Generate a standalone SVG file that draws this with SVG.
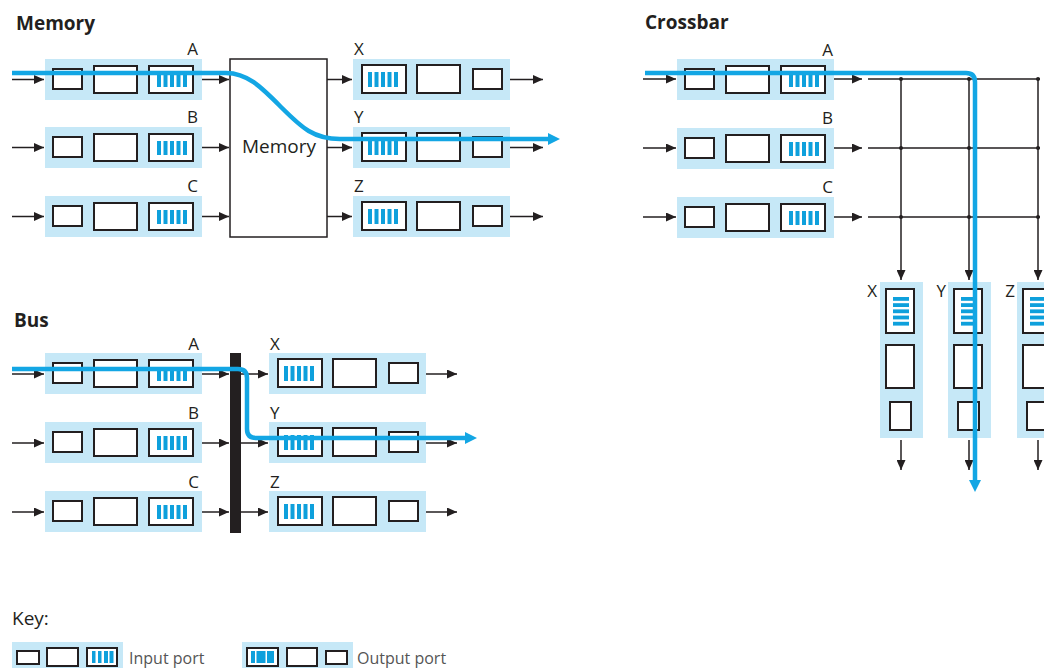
<svg xmlns="http://www.w3.org/2000/svg" xmlns:xlink="http://www.w3.org/1999/xlink" width="1044" height="668" viewBox="0 0 1044 668">
<style>
.bg{fill:#c6e8f7}
.bx{fill:#fff;stroke:#231f20;stroke-width:2}
.bar{fill:#0ea0dc}
.ln{fill:none;stroke:#231f20;stroke-width:1.5}
.arr{fill:none;stroke:#231f20;stroke-width:1.5;marker-end:url(#ah)}
.blue{fill:none;stroke:#13a6e4;stroke-width:4.5;marker-end:url(#bh)}
.t{font-family:"Open Sans","Liberation Sans",sans-serif;fill:#231f20}
.title{font-size:19px;font-weight:bold}
.lbl{font-size:17px}
.key{font-family:"Open Sans","Liberation Sans",sans-serif;fill:#555;font-size:16px}
.dot{fill:#231f20}
</style>
<defs>
<marker id="ah" markerUnits="userSpaceOnUse" markerWidth="11" markerHeight="9" refX="10" refY="4.5" orient="auto"><path d="M0,0 L10,4.5 L0,9 z" fill="#231f20"/></marker>
<marker id="bh" markerUnits="userSpaceOnUse" markerWidth="12" markerHeight="12" refX="1" refY="6" orient="auto"><path d="M0,0 L12,6 L0,12 z" fill="#13a6e4"/></marker>
<g id="inPort">
<rect class="bg" x="0" y="0" width="157" height="41"/>
<rect class="bx" x="8" y="10" width="29" height="20"/>
<rect class="bx" x="49" y="7" width="43" height="27"/>
<rect class="bx" x="104" y="7" width="44" height="27"/>
<rect class="bar" x="112" y="14" width="4" height="14"/>
<rect class="bar" x="118.5" y="14" width="4" height="14"/>
<rect class="bar" x="125" y="14" width="4" height="14"/>
<rect class="bar" x="131.5" y="14" width="4" height="14"/>
<rect class="bar" x="138" y="14" width="4" height="14"/>
</g>
<g id="outPort">
<rect class="bg" x="0" y="0" width="157" height="41"/>
<rect class="bx" x="9" y="6" width="44" height="28"/>
<rect class="bar" x="15" y="13" width="4" height="15"/>
<rect class="bar" x="21.5" y="13" width="4" height="15"/>
<rect class="bar" x="28" y="13" width="4" height="15"/>
<rect class="bar" x="34.5" y="13" width="4" height="15"/>
<rect class="bar" x="41" y="13" width="4" height="15"/>
<rect class="bx" x="64" y="6" width="43" height="28"/>
<rect class="bx" x="120" y="10" width="29" height="20"/>
</g>
<g id="vPort">
<rect class="bg" x="0" y="0" width="43" height="156"/>
<rect class="bx" x="6" y="7" width="28" height="44"/>
<rect class="bar" x="13" y="15" width="16" height="3.8"/>
<rect class="bar" x="13" y="21.2" width="16" height="3.8"/>
<rect class="bar" x="13" y="27.4" width="16" height="3.8"/>
<rect class="bar" x="13" y="33.6" width="16" height="3.8"/>
<rect class="bar" x="13" y="39.8" width="16" height="3.8"/>
<rect class="bx" x="6" y="63" width="28" height="43"/>
<rect class="bx" x="10" y="120" width="21" height="28"/>
</g>
</defs>
<rect width="1044" height="668" fill="#fff"/>

<!-- Memory -->
<text class="t title" x="16" y="30">Memory</text>
<g id="mem-in-A"><use xlink:href="#inPort" x="45" y="59"/><text class="t lbl" x="198" y="55" text-anchor="end">A</text></g>
<g id="mem-in-B"><use xlink:href="#inPort" x="45" y="127"/><text class="t lbl" x="198" y="123" text-anchor="end">B</text></g>
<g id="mem-in-C"><use xlink:href="#inPort" x="45" y="196"/><text class="t lbl" x="198" y="192" text-anchor="end">C</text></g>
<g id="mem-box"><rect x="230" y="59" width="97" height="178" fill="#fff" stroke="#231f20" stroke-width="1.5"/><text class="t" x="279" y="153" font-size="19" text-anchor="middle">Memory</text></g>
<g id="mem-out-X"><use xlink:href="#outPort" x="353" y="59"/><text class="t lbl" x="354" y="55">X</text></g>
<g id="mem-out-Y"><use xlink:href="#outPort" x="353" y="127"/><text class="t lbl" x="354" y="123">Y</text></g>
<g id="mem-out-Z"><use xlink:href="#outPort" x="353" y="196"/><text class="t lbl" x="354" y="192">Z</text></g>

<!-- Crossbar -->
<text class="t title" x="645" y="29">Crossbar</text>
<g id="cb-in-A"><use xlink:href="#inPort" x="677" y="59"/><text class="t lbl" x="833" y="56" text-anchor="end">A</text></g>
<g id="cb-in-B"><use xlink:href="#inPort" x="677" y="128"/><text class="t lbl" x="833" y="124" text-anchor="end">B</text></g>
<g id="cb-in-C"><use xlink:href="#inPort" x="677" y="197"/><text class="t lbl" x="833" y="193" text-anchor="end">C</text></g>
<g id="cb-out-X"><use xlink:href="#vPort" x="880" y="282"/><text class="t lbl" x="877" y="297" text-anchor="end">X</text></g>
<g id="cb-out-Y"><use xlink:href="#vPort" x="948" y="282"/><text class="t lbl" x="946" y="297" text-anchor="end">Y</text></g>
<g id="cb-out-Z"><use xlink:href="#vPort" x="1017" y="282"/><text class="t lbl" x="1015" y="297" text-anchor="end">Z</text></g>

<!-- Bus -->
<text class="t title" x="14" y="327">Bus</text>
<g id="bus-in-A"><use xlink:href="#inPort" x="45" y="353"/><text class="t lbl" x="199" y="350" text-anchor="end">A</text></g>
<g id="bus-in-B"><use xlink:href="#inPort" x="45" y="422"/><text class="t lbl" x="199" y="419" text-anchor="end">B</text></g>
<g id="bus-in-C"><use xlink:href="#inPort" x="45" y="491"/><text class="t lbl" x="199" y="488" text-anchor="end">C</text></g>
<g id="bus-bar"><rect x="230" y="353" width="11" height="180" fill="#231f20"/></g>
<g id="bus-out-X"><use xlink:href="#outPort" x="269" y="353"/><text class="t lbl" x="270" y="350">X</text></g>
<g id="bus-out-Y"><use xlink:href="#outPort" x="269" y="422"/><text class="t lbl" x="270" y="419">Y</text></g>
<g id="bus-out-Z"><use xlink:href="#outPort" x="269" y="491"/><text class="t lbl" x="270" y="488">Z</text></g>

<!-- Connectors -->
<g id="connectors">
<path class="arr" d="M12,79.5 H44"/><path class="arr" d="M12,147.5 H44"/><path class="arr" d="M12,216.5 H44"/>
<path class="arr" d="M202,79.5 H229"/><path class="arr" d="M202,147.5 H229"/><path class="arr" d="M202,216.5 H229"/>
<path class="arr" d="M327,79.5 H352"/><path class="arr" d="M327,147.5 H352"/><path class="arr" d="M327,216.5 H352"/>
<path class="arr" d="M510,79.5 H543"/><path class="arr" d="M510,147.5 H543"/><path class="arr" d="M510,216.5 H543"/>
<path class="arr" d="M643,79 H676"/><path class="arr" d="M643,148 H676"/><path class="arr" d="M643,217 H676"/>
<path class="arr" d="M834,79 H862"/><path class="arr" d="M834,148 H862"/><path class="arr" d="M834,217 H862"/>
<path class="ln" d="M868,79 H1040 M868,148 H1040 M868,217 H1040"/>
<path class="arr" d="M901,79 V280"/><path class="arr" d="M969,79 V280"/><path class="arr" d="M1038,79 V280"/>
<circle class="dot" cx="901" cy="79" r="2"/><circle class="dot" cx="969" cy="79" r="2"/><circle class="dot" cx="1038" cy="79" r="2"/>
<circle class="dot" cx="901" cy="148" r="2"/><circle class="dot" cx="969" cy="148" r="2"/><circle class="dot" cx="1038" cy="148" r="2"/>
<circle class="dot" cx="901" cy="217" r="2"/><circle class="dot" cx="969" cy="217" r="2"/><circle class="dot" cx="1038" cy="217" r="2"/>
<path class="arr" d="M901,440 V470"/><path class="arr" d="M969,440 V470"/><path class="arr" d="M1038,440 V470"/>
<path class="arr" d="M12,374 H44"/><path class="arr" d="M12,443 H44"/><path class="arr" d="M12,512 H44"/>
<path class="arr" d="M202,374 H229"/><path class="arr" d="M202,443 H229"/><path class="arr" d="M202,512 H229"/>
<path class="arr" d="M241,374 H268"/><path class="arr" d="M241,443 H268"/><path class="arr" d="M241,512 H268"/>
<path class="arr" d="M426,374 H457"/><path class="arr" d="M426,443 H457"/><path class="arr" d="M426,512 H457"/>
<path class="blue" d="M12,73 H226 C248,73 262,88 282,108 C302,128 314,139 340,139 H549"/>
<path class="blue" d="M645,73 H966 Q975,73 975,82 V481"/>
<path class="blue" d="M12,369 H238 Q247,369 247,378 V429 Q247,438 256,438 H466"/>
</g>

<!-- Key -->
<g id="key">
<text class="t" x="12" y="625" font-size="19" fill="#3a3a3a">Key:</text>
<g id="key-in">
<rect class="bg" x="12" y="642" width="111" height="26"/>
<rect class="bx" x="17" y="651" width="22" height="13"/>
<rect class="bx" x="47" y="648" width="31" height="18"/>
<rect class="bx" x="87" y="648" width="30" height="18"/>
<rect class="bar" x="92" y="651" width="3.5" height="12"/>
<rect class="bar" x="98" y="651" width="3.5" height="12"/>
<rect class="bar" x="104" y="651" width="4" height="12"/>
<rect class="bar" x="109.5" y="651" width="4" height="12"/>
<text class="key" x="129" y="664">Input port</text>
</g>
<g id="key-out">
<rect class="bg" x="242" y="642" width="111" height="26"/>
<rect class="bx" x="247" y="648" width="31" height="18"/>
<rect class="bar" x="251" y="651" width="4" height="12"/>
<rect class="bar" x="256.5" y="651" width="9" height="12"/>
<rect class="bar" x="267" y="651" width="7" height="12"/>
<rect class="bx" x="287" y="648" width="30" height="18"/>
<rect class="bx" x="326" y="651" width="21" height="13"/>
<text class="key" x="357" y="664">Output port</text>
</g>
</g>
</svg>
